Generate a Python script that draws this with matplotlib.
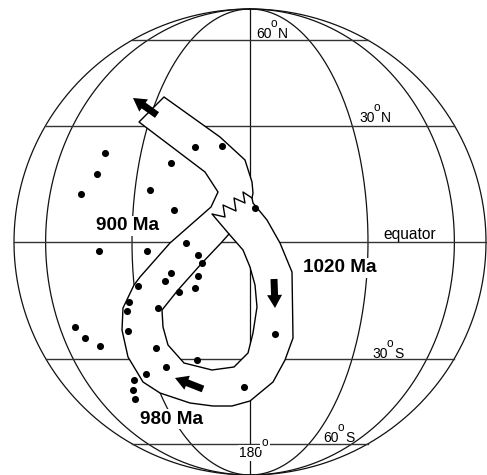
import matplotlib
matplotlib.use('Agg')
import matplotlib.pyplot as plt
import numpy as np
from matplotlib.patches import FancyArrow, Polygon

# everything, in image pixels (x right, y down)
outer_x = [164, 220, 245, 252, 253, 252, 253, 267, 280, 292, 293, 285, 273, 250, 232, 213, 190, 160, 143, 128, 122, 123, 134, 140, 170, 211, 218, 205, 139]
outer_y = [97, 137, 160, 182, 193, 198, 203, 220, 243, 272, 338, 360, 382, 401, 406, 406, 403, 393, 382, 357, 330, 308, 285, 277, 243, 207, 192, 172, 122]

hole_x = [229, 243, 250, 255, 257, 253, 248, 234, 212, 184, 168, 163, 162, 178, 202, 221]
hole_y = [234, 250, 267, 285, 307, 333, 353, 367, 370, 363, 345, 327, 310, 290, 263, 243]

zigzag_x = [229, 212, 225, 223, 236, 234, 245, 243, 252]
zigzag_y = [234, 214, 217, 205, 211, 198, 203, 192, 198]

dots_x = [105, 97, 81, 171, 150, 174, 195, 222, 255, 99, 147, 186, 198, 202, 198, 195, 171, 165, 179,
          138, 129, 127, 158, 128, 75, 85, 100, 156, 197, 166, 146, 134, 133, 135, 244, 275]
dots_y = [153, 174, 194, 163, 190, 210, 147, 146, 208, 251, 251, 243, 255, 263, 276, 288, 273, 281, 292,
          286, 302, 311, 308, 331, 327, 338, 346, 348, 360, 367, 374, 380, 390, 399, 387, 334]

arrow_tail_x = [157, 274, 203]
arrow_tail_y = [115, 279, 389]
arrow_tip_x = [133, 275, 175]
arrow_tip_y = [98, 308, 378]

meridians = [0, 30, 60, 90]
parallels = [-60, -30, 0, 30, 60]

age_labels = ['900 Ma', '1020 Ma', '980 Ma']
age_x = [128, 340, 172]
age_y = [226, 268, 419]

deg_nums = ['60', '30', '30', '60', '180']
deg_lets = ['N', 'N', 'S', 'S', '']
deg_x = [256, 359, 372, 323, 239]
deg_y = [38, 122, 358, 442, 457]

cx, cy, rx, ry = 250, 242, 236, 233

plt.rcParams['font.family'] = 'Liberation Sans'

fig = plt.figure(figsize=(4.87, 4.75), dpi=100)
ax = fig.add_axes([0, 0, 1, 1])
ax.set_xlim(0, 487)
ax.set_ylim(475, 0)
ax.axis('off')


def draw_grid(clip=None):
    lines = []
    t = np.radians(np.linspace(-90, 90, 200))
    for m in meridians:
        s = np.sin(np.radians(m))
        lines += ax.plot(cx + rx*s*np.cos(t), cy + ry*np.sin(t), color='#111111', lw=0.9, zorder=1)
        if m > 0:
            lines += ax.plot(cx - rx*s*np.cos(t), cy + ry*np.sin(t), color='#111111', lw=0.9, zorder=1)
    for p in parallels:
        lat = np.radians(p)
        half = rx*np.cos(lat)
        lines += ax.plot([cx-half, cx+half], [cy-ry*np.sin(lat)]*2, color='#333333', lw=1.0, zorder=1)
    if clip is not None:
        for l in lines:
            l.set_zorder(3)
            l.set_clip_path(clip)


draw_grid()

band = Polygon(np.column_stack([outer_x, outer_y]), closed=True, fc='white', ec='black', lw=1.0, zorder=2)
ax.add_patch(band)
hole = Polygon(np.column_stack([hole_x, hole_y]), closed=True, fc='none', ec='black', lw=1.0, zorder=4)
ax.add_patch(hole)
draw_grid(clip=hole)
ax.plot(zigzag_x, zigzag_y, color='black', lw=1.0, zorder=4)

ax.scatter(dots_x, dots_y, s=26, color='black', linewidths=0, zorder=5)

for x0, y0, x1, y1 in zip(arrow_tail_x, arrow_tail_y, arrow_tip_x, arrow_tip_y):
    ax.add_patch(FancyArrow(x0, y0, x1-x0, y1-y0, width=7, head_width=15, head_length=13,
                            length_includes_head=True, fc='black', ec='none', zorder=6))

for s, x, y in zip(age_labels, age_x, age_y):
    ax.text(x, y, s, weight='bold', fontsize=13.6, ha='center', va='center', zorder=7,
            bbox=dict(fc='white', ec='none', pad=1))

ax.text(410, 235, 'equator', fontsize=11.2, ha='center', va='center', zorder=7)

# number, small raised o and letter are separate texts, as on the original
for num, let, x, y in zip(deg_nums, deg_lets, deg_x, deg_y):
    box = dict(fc='white', ec='none', pad=1) if num == '180' else None
    w = len(num)*7.7
    ax.text(x, y, num, fontsize=10, ha='left', va='baseline', zorder=7, bbox=box)
    ax.text(x+w-0.5, y-11, 'o', fontsize=8.5, ha='left', va='baseline', zorder=8, bbox=box)
    if let:
        ax.text(x+w+6.5, y, let, fontsize=10, ha='left', va='baseline', zorder=7)

fig.savefig('out.png', dpi=100)
